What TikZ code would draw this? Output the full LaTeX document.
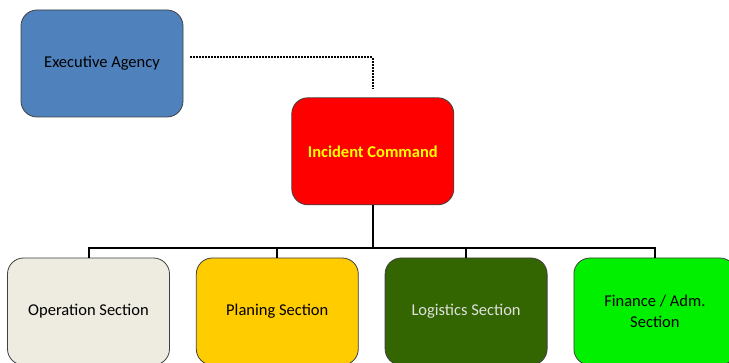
\documentclass[tikz,border=0pt]{standalone}
\usepackage{fontspec}
\setmainfont{Carlito}
\usetikzlibrary{positioning}

\definecolor{agencyblue}{HTML}{4F81BD}
\definecolor{commandred}{HTML}{FF0000}
\definecolor{commandtext}{HTML}{FFFF00}
\definecolor{operationgray}{HTML}{EEECE1}
\definecolor{planingyellow}{HTML}{FFCC00}
\definecolor{logisticsgreen}{HTML}{336600}
\definecolor{logisticstext}{HTML}{E0E0E0}
\definecolor{financegreen}{HTML}{00F000}
\definecolor{edgegray}{HTML}{404040}

\begin{document}
\begin{tikzpicture}[x=1pt, y=1pt,
		unit/.style={draw=edgegray, line width=0.8pt, rounded corners=16pt, minimum width=162pt, minimum height=107pt, align=center, font=\fontsize{16.5}{21}\selectfont},
		bus/.style={line width=2pt}]
		\useasboundingbox (0,0) rectangle (729,-363);
		\clip (0,0) rectangle (729,-363);
		\node[unit, fill=agencyblue] (Agency) at (102,-63.5) {Executive Agency};
		\node[unit, fill=commandred, text=commandtext, font=\fontsize{16.5}{21}\selectfont\bfseries, below right=-20pt and 108pt of Agency] (Incident) {Incident Command};
		\coordinate[below=43pt of Incident] (Bus);
		\node[unit, fill=operationgray] (Operation) at (88.5,-311.5) {Operation Section};
		\node[unit, fill=planingyellow, right=26pt of Operation] (Planing) {Planing Section};
		\node[unit, fill=logisticsgreen, text=logisticstext, right=26pt of Planing] (Logistics) {Logistics Section};
		\node[unit, fill=financegreen, right=26pt of Logistics] (Finance) {Finance / Adm.\\Section};
		
		\draw[line width=2pt, dash pattern=on 1.6pt off 1.4pt, shorten <=7pt, shorten >=8pt] ([yshift=6pt]Agency.east) -| (Incident.north);
		\draw[bus] (Incident) -- (Bus);
		\draw[bus] (Bus) -| (Operation);
		\draw[bus] (Bus) -| (Planing);
		\draw[bus] (Bus) -| (Logistics);
		\draw[bus] (Bus) -| (Finance);
	\end{tikzpicture}
\end{document}
